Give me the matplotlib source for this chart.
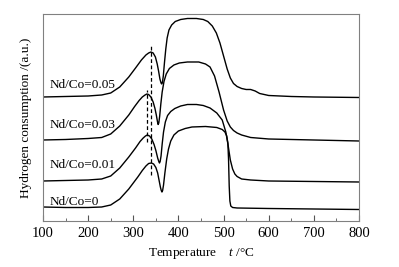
import matplotlib
matplotlib.use("Agg")
import matplotlib.pyplot as plt
from matplotlib.ticker import MultipleLocator

plt.rcParams['font.family'] = ['Liberation Serif', 'DejaVu Serif']
plt.rcParams['mathtext.fontset'] = 'custom'
plt.rcParams['mathtext.it'] = 'Liberation Serif:italic'
plt.rcParams['mathtext.rm'] = 'Liberation Serif'

# temperature (deg C) and hydrogen consumption (a.u., curves offset)
t_0 = [100, 150, 200, 230, 250, 270, 290, 310, 320, 328, 334, 340, 345, 350, 354, 357,
       360, 362, 363.5, 365, 367, 370, 374, 378, 383, 390, 400, 415, 430, 460, 485,
       497, 503, 507, 509.5, 511, 512.5, 514, 516, 520, 530, 600, 700, 800]
h_0 = [14, 13.5, 13.5, 14, 16, 22, 32, 44, 50.5, 55, 57.5, 58, 57, 53.5, 48, 41,
       34, 30.5, 29, 30.5, 36, 48, 62, 72, 80, 86, 90, 92.5, 94, 94.5, 93.5,
       91.5, 89, 85, 78, 62, 35, 20, 15, 13.5, 13, 12.5, 12, 11.5]

t_001 = [100, 150, 200, 230, 250, 270, 290, 305, 315, 322, 327, 331, 336, 341, 346,
         350, 354, 356.5, 358, 359.5, 361.5, 364, 367, 371, 376, 383, 392, 405, 420,
         440, 455, 470, 485, 497, 505, 510, 515, 520, 525, 530, 540, 560, 600, 700, 800]
h_001 = [40, 40.5, 41, 42, 45, 53, 64, 73, 79.5, 83, 85, 86, 85, 82, 76.5,
         70.5, 63, 59.5, 58, 59.5, 65, 77, 89, 99, 105.5, 109.5, 112.5, 115, 116.5,
         116.5, 115.5, 113, 108, 101, 89, 76, 61, 52, 47, 44.5, 42, 41, 40, 39.5, 39]

t_003 = [100, 150, 200, 230, 250, 270, 290, 303, 313, 320, 326, 330, 334, 339, 344,
         348, 351, 353.5, 355, 356.5, 358.5, 361, 364, 368, 373, 380, 390, 402, 420,
         445, 460, 470, 480, 490, 500, 508, 515, 522, 530, 540, 560, 600, 700, 800]
h_003 = [81, 81.5, 82.5, 83.5, 87, 95, 106, 114.5, 120.5, 124, 126, 127, 126.5, 124, 119,
         112.5, 106, 99.5, 96.5, 98, 105, 117, 129, 139.5, 147, 152.5, 156, 158, 159,
         159, 157, 154, 145, 129, 111, 100, 94, 90.5, 88, 86, 83.5, 82, 81, 80]

t_005 = [100, 150, 200, 230, 250, 270, 290, 305, 318, 328, 334, 339, 344, 349, 353,
         356, 359, 361.5, 363, 364.5, 366.5, 369, 372, 375, 379, 385, 393, 405, 420,
         440, 455, 465, 475, 484, 492, 500, 508, 515, 522, 530, 540, 550, 560, 570,
         580, 600, 650, 700, 800]
h_005 = [124, 124.5, 125, 126, 128, 134, 144, 153, 161, 166, 168, 169, 168, 164, 157,
         150, 142, 138, 137, 138.5, 145, 158, 172, 183, 191, 196, 199.5, 201.5, 202.5,
         202.5, 201.5, 199.5, 195, 188, 178, 165, 152, 143, 137.5, 134.5, 132.5, 131.5,
         131.5, 130, 127.5, 125.5, 124.5, 124, 123.5]

labels = ['Nd/Co=0', 'Nd/Co=0.01', 'Nd/Co=0.03', 'Nd/Co=0.05']
label_y = [19, 56, 96, 136]

fig = plt.figure(figsize=(3.99, 2.67), dpi=100)
ax = fig.add_axes([0.1078, 0.1723, 0.7919, 0.7753])

for t, h in [(t_0, h_0), (t_001, h_001), (t_003, h_003), (t_005, h_005)]:
    ax.plot(t, h, color='black', lw=1.0)

# peak markers
ax.plot([339, 339], [46, 176], color='black', lw=0.9, ls=(0, (3, 2)))
ax.plot([331, 331], [79, 131], color='black', lw=0.9, ls=(0, (3, 2)))

for lab, y in zip(labels, label_y):
    ax.text(115, y, lab, fontsize=9.5, va='center', ha='left')

ax.set_xlim(100, 800)
ax.set_ylim(0, 207)
ax.xaxis.set_major_locator(MultipleLocator(100))
ax.xaxis.set_minor_locator(MultipleLocator(50))
ax.tick_params(axis='x', which='both', direction='in', top=False, labelsize=10.5, pad=4)
ax.tick_params(axis='x', which='major', length=4, color='#555555')
ax.tick_params(axis='x', which='minor', length=2.5, color='#555555')
ax.set_yticks([])
for s in ax.spines.values():
    s.set_color('#808080')
    s.set_linewidth(0.8)

ax.set_ylabel('Hydrogen consumption /(a.u.)', fontsize=9.5, labelpad=8)
ax.set_xlabel('Temperature    $\\it{t}$ /°C', fontsize=9.5, labelpad=5)

fig.savefig('out.png', dpi=100)
